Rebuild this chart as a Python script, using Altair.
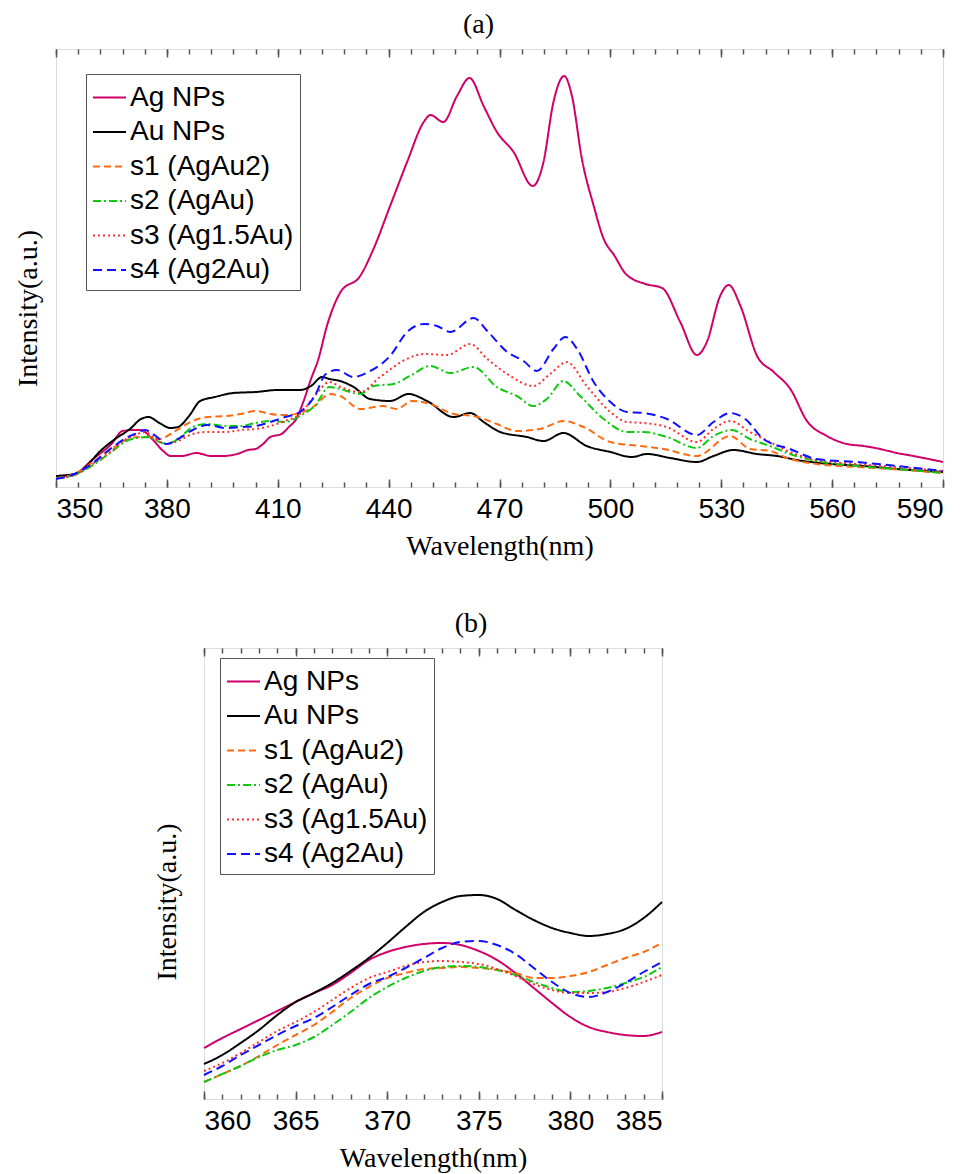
import altair as alt
import pandas as pd

SERIES = ["Ag NPs", "Au NPs", "s1 (AgAu2)", "s2 (AgAu)", "s3 (Ag1.5Au)", "s4 (Ag2Au)"]
COLORS = ["#D0006A", "#000000", "#FF6A10", "#10C810", "#FF3030", "#1010FF"]
DASHES = [[1, 0], [1, 0], [7, 4], [8, 3, 2, 3], [2, 3], [9, 5]]

# ---------- panel (a) ----------
AG_NM_A = [350, 355, 360, 365, 368, 371, 373, 376, 379, 381, 384, 388, 392, 395, 399, 402, 404, 406, 408, 411,
           413, 415, 417, 419, 421, 423.3, 427, 432.3, 435.9, 440.4, 445, 449.5, 451.3, 454.8, 458.5, 461.9,
           465.7, 469.3, 473.8, 479, 481.9, 484.6, 487.5, 489.6, 492.3, 495.5, 498.2, 501, 504.2, 509.5, 514,
           518.9, 523.4, 526.1, 529.7, 532, 535.2, 539.7, 544.2, 548.7, 553.2, 558.6, 564, 568.5, 573, 577.5,
           582, 590]
AG_I_A = [11, 13, 28, 43, 56, 57, 57, 48, 36, 31, 31, 34, 31, 31, 33, 37, 38, 43, 50, 53,
          60, 68, 86, 108, 128, 161, 195, 211, 238, 281, 325, 365, 372, 365, 391, 409,
          381, 355, 335, 301, 325, 385, 411, 391, 328, 281, 248, 232, 213, 203, 199,
          165, 132, 145, 191, 202, 181, 131, 115, 98, 66, 51, 43, 41, 38, 34,
          31, 25]

AU_NM_A = [350, 355, 358, 362, 366, 370, 373, 375, 378, 381, 383, 386, 389, 393, 398, 404, 410, 416, 419, 422,
           424, 426.9, 430.5, 435, 440.4, 445.4, 450.4, 457.6, 462.1, 465.7, 470.2, 477.4, 481.9, 487.3, 493.6,
           500, 505.8, 509.9, 516.2, 523.4, 527.9, 533.3, 539.7, 545.1, 550.5, 559.5, 568.5, 577.5, 590]
AU_I_A = [11, 13, 20, 36, 48, 58, 68, 70, 64, 59, 60, 71, 86, 90, 94, 95, 97, 97, 101, 110,
          108, 106, 100, 88, 86, 93, 86, 70, 74, 65, 55, 50, 46, 54, 41,
          35, 30, 33, 29, 25, 31, 37, 33, 31, 27, 23, 21, 18, 15]

S1_NM_A = [350, 355, 360, 365, 369, 372, 375, 378, 381, 384, 387, 391, 396, 400, 404, 408, 412, 416, 420, 424,
           426.9, 432.3, 438.6, 442.2, 446.3, 451.3, 457.6, 463, 469.3, 474.7, 481, 487.3, 492.7, 500, 508.1,
           514.4, 523.4, 532.4, 537.8, 543.2, 548.6, 555.8, 566.6, 575.7, 590]
S1_I_A = [9, 13, 25, 38, 47, 50, 50, 48, 53, 60, 66, 70, 71, 73, 76, 73, 72, 74, 81, 93,
          91, 78, 81, 78, 86, 83, 73, 71, 63, 56, 58, 66, 60, 45, 41,
          38, 31, 51, 38, 36, 28, 23, 20, 18, 14]

S2_NM_A = [350, 355, 360, 365, 369, 372, 375, 378, 380, 383, 387, 391, 396, 400, 404, 408, 412, 416, 420, 424,
           426.9, 432.3, 435.9, 441.3, 445.8, 451.3, 456.7, 463, 469.3, 474.7, 479.2, 482.8, 487.3, 491.8, 498.2,
           504.5, 509, 515.3, 523.4, 527.9, 532.9, 537.8, 543.2, 548.6, 555.8, 566.6, 577.5, 590]
S2_I_A = [9, 12, 22, 35, 46, 49, 50, 45, 43, 48, 60, 63, 61, 61, 64, 66, 65, 71, 81, 100,
          98, 93, 101, 103, 111, 121, 114, 120, 100, 91, 81, 88, 106, 91, 68,
          55, 55, 50, 39, 51, 57, 48, 41, 33, 26, 21, 18, 14]

S3_NM_A = [350, 355, 360, 365, 369, 372, 374, 377, 380, 383, 387, 391, 396, 400, 404, 408, 412, 416, 420, 424,
           427, 432.3, 437.7, 444.9, 449.5, 455.8, 462.1, 466.7, 472.1, 479.2, 483.7, 488.2, 493.6, 500, 504.5,
           509, 515.3, 523.4, 527.9, 532.4, 537.8, 543.2, 548.6, 555.8, 566.6, 577.5, 590]
S3_I_A = [9, 12, 23, 36, 48, 53, 55, 48, 43, 46, 53, 55, 55, 57, 58, 61, 66, 73, 91, 105,
          100, 95, 110, 128, 133, 132, 143, 128, 113, 101, 113, 125, 101, 75, 65,
          64, 60, 45, 58, 66, 55, 45, 35, 27, 23, 20, 16]

S4_NM_A = [350, 355, 360, 365, 369, 372, 374, 377, 380, 383, 387, 391, 396, 400, 404, 408, 412, 416, 420, 423,
           426, 430.5, 435, 440.4, 445, 449.5, 453.1, 456.7, 463, 466.7, 472.1, 476.5, 480.1, 484.6, 487.8, 491,
           495.5, 500, 504.5, 509, 515.3, 523.4, 527.9, 532.4, 536.5, 541.4, 548.6, 555.8, 566.6, 577.5, 590]
S4_I_A = [8, 13, 24, 39, 49, 54, 57, 51, 43, 48, 57, 62, 59, 60, 61, 65, 70, 75, 91, 113,
          117, 110, 116, 131, 155, 163, 161, 155, 169, 156, 135, 126, 116, 138, 150, 138,
          105, 85, 75, 74, 68, 52, 65, 74, 68, 48, 38, 28, 25, 21, 16]

# ---------- panel (b) ----------
NM_B = list(range(360, 386))
AG_I_B = [51, 61, 70, 79, 88, 97, 106, 114, 126, 139, 147, 152, 155, 156, 154, 148, 139, 126, 111, 96,
          82, 72, 67, 64, 63, 67]
AU_I_B = [35, 44, 56, 69, 84, 97, 106, 116, 128, 141, 156, 172, 187, 197, 203, 204, 200, 189, 179, 171,
          166, 163, 165, 170, 181, 197]
S1_I_B = [17, 25, 33, 43, 54, 64, 74, 87, 101, 112, 121, 126, 130, 131, 132, 131, 129, 126, 121, 121,
          123, 127, 134, 141, 147, 156]
S2_I_B = [17, 25, 33, 42, 49, 54, 62, 74, 87, 101, 112, 121, 128, 132, 133, 132, 129, 124, 117, 111,
          107, 108, 111, 116, 122, 132]
S3_I_B = [28, 36, 46, 57, 68, 77, 87, 99, 111, 121, 127, 133, 137, 138, 137, 135, 130, 123, 115, 109,
          106, 106, 107, 111, 117, 124]
S4_I_B = [24, 33, 44, 54, 64, 73, 81, 92, 104, 115, 122, 131, 141, 151, 157, 158, 154, 145, 131, 117,
          106, 102, 107, 116, 127, 137]

TICKS_A = list(range(350, 591, 30))
MINOR_A = list(range(350, 591, 6))
TICKS_B = list(range(360, 386, 5))
MINOR_B = list(range(360, 386, 1))


def frame(pairs):
    parts = []
    for name, nm, vals in pairs:
        parts.append(pd.DataFrame({"nm": nm, "v": vals, "series": name}))
    return pd.concat(parts, ignore_index=True)


df_a = frame([(SERIES[0], AG_NM_A, AG_I_A), (SERIES[1], AU_NM_A, AU_I_A), (SERIES[2], S1_NM_A, S1_I_A),
              (SERIES[3], S2_NM_A, S2_I_A), (SERIES[4], S3_NM_A, S3_I_A), (SERIES[5], S4_NM_A, S4_I_A)])
df_b = frame([(SERIES[0], NM_B, AG_I_B), (SERIES[1], NM_B, AU_I_B), (SERIES[2], NM_B, S1_I_B),
              (SERIES[3], NM_B, S2_I_B), (SERIES[4], NM_B, S3_I_B), (SERIES[5], NM_B, S4_I_B)])

SERIF = "Liberation Serif"
SANS = "Liberation Sans"
TICK_COLOR = "#555555"


def legend(x, y):
    return alt.Legend(orient="none", legendX=x, legendY=y, title=None, symbolType="stroke",
                      symbolSize=1089, symbolStrokeWidth=2, labelFont=SANS, labelFontSize=28,
                      labelColor="black", labelOffset=3, labelLimit=400, padding=6, rowPadding=2.5,
                      strokeColor="#555555", fillColor="white")


def panel(df, domain_x, height_max, major, minor, w, h, lx, ly, title, tdx, ypad, yshift):
    xscale = alt.Scale(domain=domain_x, nice=False, zero=False)
    yscale = alt.Scale(domain=[0, height_max], nice=False)
    lg = legend(lx, ly)
    lines = alt.Chart(df).mark_line(strokeWidth=2, interpolate="monotone").encode(
        x=alt.X("nm:Q", scale=xscale,
                axis=alt.Axis(orient="bottom", values=major, tickSize=8, offset=-8, tickWidth=1.5,
                              tickColor=TICK_COLOR, domain=False, grid=False, labelFont=SANS,
                              labelFontSize=28, labelColor="black", labelPadding=8,
                              title="Wavelength(nm)", titleFont=SERIF, titleFontSize=28,
                              titleFontWeight="normal", titleColor="black", titlePadding=9)),
        y=alt.Y("v:Q", scale=yscale,
                axis=alt.Axis(title="Intensity(a.u.)", titleFont=SERIF, titleFontSize=28,
                              titleFontWeight="normal", titleColor="black", titlePadding=ypad,
                              titleY=h / 2 + yshift,
                              labels=False, ticks=False, domain=False, grid=False)),
        color=alt.Color("series:N", scale=alt.Scale(domain=SERIES, range=COLORS), legend=lg),
        strokeDash=alt.StrokeDash("series:N", scale=alt.Scale(domain=SERIES, range=DASHES), legend=lg),
    )

    def tick_layer(orient, values, size):
        return alt.Chart(df).mark_point(opacity=0).encode(
            x=alt.X("nm:Q", scale=xscale,
                    axis=alt.Axis(orient=orient, values=values, tickSize=size, offset=-size,
                                  tickWidth=1.5, tickColor=TICK_COLOR, labels=False, domain=False,
                                  grid=False, title=None)),
            y=alt.Y("v:Q", scale=yscale),
        )

    return alt.layer(
        lines,
        tick_layer("bottom", minor, 5),
        tick_layer("top", major, 8),
        tick_layer("top", minor, 5),
    ).resolve_axis(x="independent").properties(
        width=w, height=h,
        title=alt.TitleParams(text=title, font=SERIF, fontSize=28, fontWeight="normal",
                              color="black", anchor="middle", dx=tdx, offset=9),
    )


chart_a = panel(df_a, [350, 590], 438, TICKS_A, MINOR_A, 887, 438, 30, 25, "(a)", -21, 14, 40)
chart_b = panel(df_b, [360, 385], 451, TICKS_B, MINOR_B, 458, 451, 16, 10, "(b)", 38, 23, 28)

spacer = alt.Chart(pd.DataFrame({"s": [0]})).mark_point(opacity=0).encode(
    x=alt.value(0), y=alt.value(0)
).properties(width=95, height=10, view=alt.ViewBackground(stroke="transparent"))

row_b = alt.hconcat(spacer, chart_b, spacing=0).resolve_scale(
    color="independent", strokeDash="independent"
).resolve_legend(color="independent", strokeDash="independent")

chart = alt.vconcat(
    chart_a,
    row_b,
    spacing=48,
).resolve_scale(color="independent", strokeDash="independent").resolve_legend(
    color="independent", strokeDash="independent"
).properties(
    padding={"top": 2, "left": 5, "right": 5, "bottom": 0}
).configure_view(stroke="#555555", strokeWidth=1.5).configure(background="white")

chart.save("out.html", embed_options={"renderer": "svg", "actions": False})
